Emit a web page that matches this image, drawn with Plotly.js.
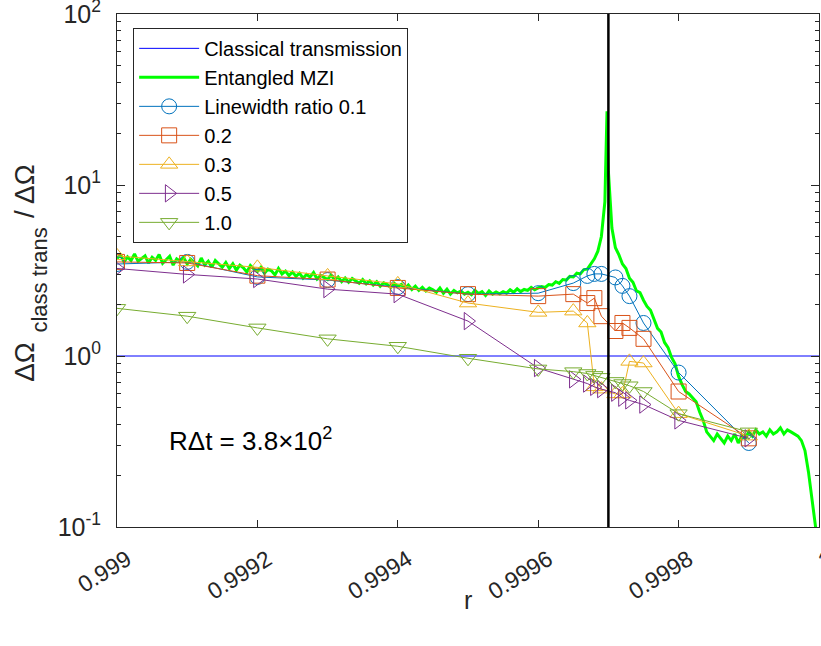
<!DOCTYPE html>
<html><head><meta charset="utf-8">
<script src="https://cdn.plot.ly/plotly-3.0.1.min.js"></script>
<style>html,body{margin:0;padding:0;background:#fff}#chart{width:821px;height:646px}</style>
</head><body><div id="chart"></div>
<script>
// ---------- data ----------
const xTickVals = [0.999, 0.9992, 0.9994, 0.9996, 0.9998, 1.0];
const xTickText = ['0.999', '0.9992', '0.9994', '0.9996', '0.9998', '1'];
const yTickVals = [0.1, 1, 10, 100];
const yTickText = ['10<sup>-1</sup>', '10<sup>0</sup>', '10<sup>1</sup>', '10<sup>2</sup>'];

const classicalR = [0.999, 1.0];
const classicalV = [1, 1];

// Entangled MZI, sampled on a uniform r grid (start, step)
const mziStartR = 0.999;
const mziStepR = 0.000005;
const mziV = [
  3.72, 3.90, 3.55, 3.80, 3.62, 3.95, 3.58, 3.71, 3.85, 3.50,
  3.78, 3.62, 3.92, 3.48, 3.66, 3.83, 3.40, 3.70, 3.58, 3.76,
  3.45, 3.68, 3.52, 3.36, 3.74, 3.41, 3.58, 3.30, 3.62, 3.44,
  3.30, 3.52, 3.25, 3.46, 3.18, 3.40, 3.28, 3.10, 3.38, 3.22,
  3.12, 3.30, 3.05, 3.22, 3.15, 2.98, 3.25, 3.02, 3.14, 2.95,
  3.10, 2.92, 3.05, 2.85, 3.00, 2.90, 3.08, 2.82, 2.96, 2.88,
  2.80, 2.98, 2.78, 2.90, 2.72, 2.86, 2.70, 2.84, 2.74, 2.66,
  2.80, 2.64, 2.75, 2.60, 2.72, 2.56, 2.68, 2.62, 2.52, 2.66,
  2.55, 2.62, 2.48, 2.60, 2.45, 2.56, 2.42, 2.52, 2.40, 2.50,
  2.44, 2.36, 2.50, 2.33, 2.46, 2.30, 2.42, 2.34, 2.40, 2.30,
  2.36, 2.28, 2.42, 2.32, 2.38, 2.26, 2.40, 2.30, 2.37, 2.31,
  2.38, 2.33, 2.44, 2.36, 2.47, 2.38, 2.45, 2.42, 2.52, 2.44,
  2.50, 2.55, 2.52, 2.62, 2.60, 2.72, 2.66, 2.80, 2.78, 2.92,
  2.90, 3.05, 3.02, 3.20, 3.22, 3.45, 3.70, 4.10, 5.00, 8.00,
  12.0, 5.60, 4.30, 3.90, 3.45, 3.25, 2.85, 2.70, 2.40, 2.35,
  2.12, 1.95, 1.85, 1.62, 1.45, 1.38, 1.20, 1.12, 0.98, 0.90,
  0.76, 0.68, 0.62, 0.60, 0.57, 0.54, 0.47, 0.42, 0.36, 0.34,
  0.32, 0.35, 0.33, 0.31, 0.34, 0.32, 0.35, 0.31, 0.34, 0.33,
  0.36, 0.34, 0.37, 0.35, 0.36, 0.34, 0.37, 0.35, 0.36, 0.38,
  0.35, 0.37, 0.36, 0.35, 0.34, 0.32, 0.28, 0.21, 0.15, 0.10,
  0.07
];
const mziPeakR = [0.999698];
const mziPeakV = [27];

const lwR = [0.999, 0.9991, 0.9992, 0.9993, 0.9994, 0.9995, 0.9996, 0.99965, 0.99967,
             0.99968, 0.99969, 0.99971, 0.99972, 0.99973, 0.99975, 0.9998, 0.9999];
const lw01 = [3.45, 3.55, 2.90, 2.78, 2.53, 2.30, 2.33, 2.67, 2.94, 3.02, 3.02, 2.88, 2.57, 2.24, 1.56, 0.80, 0.31];
const lw02 = [3.55, 3.50, 2.95, 2.80, 2.50, 2.30, 2.24, 2.30, 2.04, 2.18, 1.71, 1.40, 1.56, 1.46, 1.26, 0.62, 0.33];
const lw03 = [3.85, 3.55, 3.30, 2.94, 2.64, 2.04, 1.80, 1.83, 1.56, 0.66, 0.64, 0.60, 0.60, 0.93, 0.91, 0.46, 0.34];
const lw05 = [3.25, 3.00, 2.82, 2.46, 2.30, 1.60, 0.85, 0.73, 0.69, 0.66, 0.64, 0.61, 0.57, 0.55, 0.52, 0.42, 0.33];
const lw10 = [1.90, 1.71, 1.46, 1.26, 1.14, 0.97, 0.84, 0.81, 0.79, 0.77, 0.75, 0.71, 0.69, 0.67, 0.62, 0.46, 0.36];

const resonanceR = [0.9997, 0.9997];
const resonanceV = [0.1, 100];

const annotText = 'R\u0394t = 3.8\u00d710<sup>2</sup>';
const xTitle = 'r';
const yTitleMain = '\u0394\u03a9';
const yTitleSub = 'class trans';
const yTitleEnd = '/ \u0394\u03a9';

// ---------- build ----------
const mziPts = mziV.map((v, i) => [mziStartR + i * mziStepR, v]);
mziPeakR.forEach((r, i) => mziPts.push([r, mziPeakV[i]]));
mziPts.sort((a, b) => a[0] - b[0]);
const mziR = mziPts.map(p => p[0]);
const mziVal = mziPts.map(p => p[1]);

const FONT = 'Liberation Sans, Arial, Helvetica, sans-serif';
const AX = '#262626';

function lwTrace(name, y, color, symbol) {
  return {
    x: lwR, y: y, name: name, type: 'scatter', mode: 'lines+markers',
    line: {color: color, width: 1},
    marker: {symbol: symbol, size: 15, color: color, line: {color: color, width: 1}}
  };
}

const traces = [
  {x: classicalR, y: classicalV, name: 'Classical transmission', type: 'scatter', mode: 'lines',
   line: {color: '#0000ff', width: 1}},
  {x: mziR, y: mziVal, name: 'Entangled MZI', type: 'scatter', mode: 'lines',
   line: {color: '#00ff00', width: 3}},
  lwTrace('Linewidth ratio 0.1', lw01, '#0072bd', 'circle-open'),
  lwTrace('0.2', lw02, '#d95319', 'square-open'),
  lwTrace('0.3', lw03, '#edb120', 'triangle-up-open'),
  lwTrace('0.5', lw05, '#7e2f8e', 'triangle-right-open'),
  lwTrace('1.0', lw10, '#77ac30', 'triangle-down-open'),
  {x: resonanceR, y: resonanceV, type: 'scatter', mode: 'lines', showlegend: false,
   line: {color: '#000000', width: 2.5}, hoverinfo: 'skip'}
];

function ann(text, x, y, size, angle) {
  return {xref: 'paper', yref: 'paper', x: x, y: y, xanchor: 'center', yanchor: 'middle',
          text: text, showarrow: false, textangle: angle,
          font: {family: FONT, size: size, color: AX}};
}

const layout = {
  width: 821, height: 646,
  margin: {l: 117, r: 2, t: 14, b: 119},
  paper_bgcolor: '#ffffff', plot_bgcolor: '#ffffff',
  font: {family: FONT, color: AX},
  showlegend: true,
  legend: {
    x: 0.023, y: 0.973, xanchor: 'left', yanchor: 'top',
    bgcolor: '#ffffff', bordercolor: AX, borderwidth: 1,
    font: {family: FONT, size: 20, color: '#000000'},
    itemwidth: 60, tracegroupgap: 0
  },
  xaxis: {
    type: 'linear', range: [0.999, 1.0],
    tickmode: 'array', tickvals: xTickVals, ticktext: xTickText,
    tickangle: -32, tickfont: {family: FONT, size: 23, color: AX},
    ticklabeloverflow: 'allow', ticklabelstandoff: 9, ticklabelshift: 10,
    ticks: 'inside', ticklen: 7, tickcolor: AX,
    showline: true, linecolor: AX, linewidth: 1, mirror: 'ticks',
    showgrid: false, zeroline: false
  },
  yaxis: {
    type: 'log', range: [-1, 2],
    tickmode: 'array', tickvals: yTickVals, ticktext: yTickText,
    tickfont: {family: FONT, size: 25, color: AX},
    ticklabeloverflow: 'allow', ticklabelstandoff: 10,
    ticks: 'inside', ticklen: 8, tickcolor: AX,
    minor: {ticks: 'inside', ticklen: 4, tickcolor: AX, dtick: 'D1', showgrid: false},
    showline: true, linecolor: AX, linewidth: 1, mirror: 'ticks',
    showgrid: false, zeroline: false
  },
  annotations: [
    {xref: 'paper', yref: 'paper', x: 0.071, y: 0.17, xanchor: 'left', yanchor: 'middle',
     text: annotText, showarrow: false, font: {family: FONT, size: 26, color: '#000000'}},
    ann(xTitle, 0.5, -0.142, 25, 0),
    ann(yTitleMain, -0.131, 0.322, 28, -90),
    ann(yTitleSub, -0.110, 0.482, 22, -90),
    ann(yTitleEnd, -0.131, 0.655, 28, -90)
  ]
};

Plotly.newPlot('chart', traces, layout, {displayModeBar: false, staticPlot: true});
</script>
</body></html>
